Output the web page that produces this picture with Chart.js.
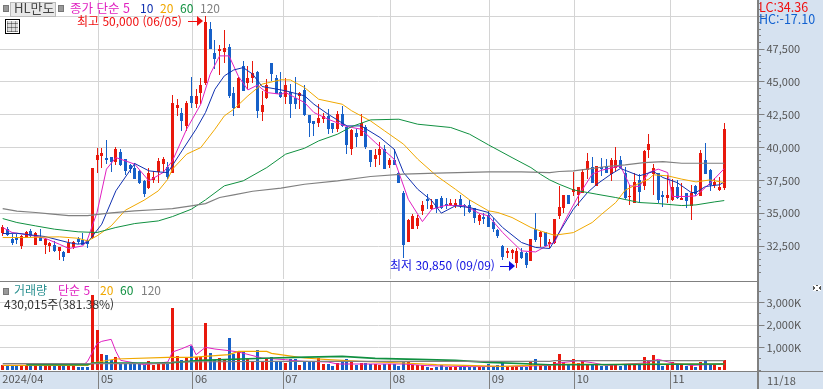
<!DOCTYPE html>
<html lang="ko">
<head>
<meta charset="utf-8">
<title>HL만도</title>
<script src="https://cdn.jsdelivr.net/npm/chart.js@4"></script>
<style>
html, body { margin: 0; padding: 0; background: #fff; overflow: hidden; }
#page { position: relative; width: 823px; height: 389px; overflow: hidden; }
#page canvas { position: absolute; left: 0; }
.side { position: absolute; left: 758px; top: 0; width: 65px; height: 389px; background: #d6e2f0; }
.band { position: absolute; left: 0; top: 371px; width: 758px; height: 18px; background: #d6e2f0; }
.rule { position: absolute; background: #808080; }
.t { position: absolute; white-space: nowrap; font: 12px/14px "Noto Sans CJK KR", sans-serif; z-index: 3; }
.sq { position: absolute; width: 4px; height: 5px; background: #999; border: 1px solid #777; z-index: 3; }
.btn { position: absolute; left: 10px; top: 2px; width: 44px; height: 13px; background: #e8e8e8; border: 1px solid #bbb; z-index: 3; }
.grid-ico { position: absolute; left: 5px; top: 19px; width: 11px; height: 11px; border: 1px solid #000; padding: 1px; z-index: 3; }
.grid-ico div { width: 100%; height: 100%; background:
    repeating-linear-gradient(90deg, #999 0 1px, #ddd 1px 4px),
    repeating-linear-gradient(0deg, #999 0 1px, transparent 1px 4px);
    background-blend-mode: multiply; }
.close { position: absolute; left: 813px; top: 285px; width: 8px; height: 6px; z-index: 3; background:
    linear-gradient(45deg, transparent 42%, #fff 42% 58%, transparent 58%),
    linear-gradient(-45deg, transparent 42%, #fff 42% 58%, transparent 58%), #555; }
.arrow { position: absolute; height: 1px; z-index: 3; }
.head { position: absolute; width: 0; height: 0; border-top: 5px solid transparent; border-bottom: 5px solid transparent; z-index: 3; }
</style>
</head>
<body>
<div id="page">
    <div class="side"></div>
    <div class="band"></div>

    <canvas id="priceChart" width="823" height="279" style="top:0"></canvas>
    <canvas id="volumeChart" width="823" height="108" style="top:281px"></canvas>

    <div class="rule" style="left:0;top:281px;width:758px;height:1px"></div>
    <div class="rule" style="left:0;top:371px;width:823px;height:1px"></div>
    <div class="rule" style="left:757px;top:279px;width:2px;height:110px"></div>

    <div class="sq" style="left:3px;top:5px"></div>
    <div class="btn"></div>
    <div class="t" style="left:14px;top:1px;color:#444;font-size:13px">HL만도</div>
    <div class="sq" style="left:58px;top:5px"></div>
    <div class="t" style="left:70px;top:1px;color:#e020c0;font-size:12.5px">종가 단순 5</div>
    <div class="t" style="left:140px;top:1px;color:#1030b0">10</div>
    <div class="t" style="left:160px;top:1px;color:#f0a800">20</div>
    <div class="t" style="left:180px;top:1px;color:#109040">60</div>
    <div class="t" style="left:200px;top:1px;color:#808080">120</div>
    <div class="grid-ico"><div></div></div>

    <div class="t" style="left:77px;top:14px;color:#f01010">최고 50,000 (06/05)</div>
    <div class="arrow" style="left:188px;top:21px;width:9px;background:#f01010"></div>
    <div class="head" style="left:197px;top:16px;border-left:6px solid #f01010"></div>

    <div class="t" style="left:390px;top:258px;color:#1010e0">최저 30,850 (09/09)</div>
    <div class="arrow" style="left:500px;top:266px;width:9px;background:#1010e0"></div>
    <div class="head" style="left:509px;top:261px;border-left:6px solid #1010e0"></div>

    <div class="t" style="left:759px;top:0;color:#f01010;font-size:12.5px">LC:34.36</div>
    <div class="t" style="left:759px;top:12px;color:#1060d0;font-size:12.5px">HC:-17.10</div>

    <div class="sq" style="left:3px;top:288px"></div>
    <div class="t" style="left:14px;top:283px;color:#2a9090">거래량</div>
    <div class="t" style="left:58px;top:283px;color:#e020c0">단순 5</div>
    <div class="t" style="left:100px;top:283px;color:#f0a800">20</div>
    <div class="t" style="left:120px;top:283px;color:#109040">60</div>
    <div class="t" style="left:141px;top:283px;color:#808080">120</div>
    <div class="t" style="left:4px;top:297px;color:#333">430,015주(381.38%)</div>
    <div class="close"></div>
    <div class="t" style="left:767px;top:373px;color:#555;font-size:11px">11/18</div>
</div>

<script>
// === DATA ===
const monthLabels = ['2024/04', '05', '06', '07', '08', '09', '10', '11'];
const monthPos = [-0.5, 20.4, 40.35, 59.5, 82.3, 103.3, 121.3, 141.6];
const priceLabels = [32500, 35000, 37500, 40000, 42500, 45000, 47500];
const volumeLabels = [1000, 2000, 3000];

const open = [
    33490,33840,33030,33130,32520,33150,33640,32600,33210,32600,
    32520,32570,32110,32060,31990,32470,33030,32950,32900,33130,
    39040,39350,39190,39270,38910,39700,39120,38660,38480,38230,
    37470,36910,37540,38180,38760,38560,38100,43050,42620,41650,
    43890,43300,44140,44900,49010,47180,47360,47290,47670,44190,
    43000,46220,44950,45330,45760,42720,43760,46420,45330,44240,
    43860,44240,43760,43890,44370,42470,42010,41860,42210,42390,
    41910,41400,42540,41600,39880,41100,40890,41530,39800,39120,
    39420,39880,38660,39040,38100,36580,32820,33840,34040,35180,
    36120,35310,36070,36170,35740,35640,35570,36070,35620,35620,
    35440,34400,34750,34850,34300,33740,32520,31960,31960,31200,
    32060,31960,31380,33790,33230,33540,32650,32770,34800,35440,
    36380,36630,36380,36580,38310,38560,37040,38560,38610,37980,
    38480,39070,38100,36230,35820,37520,37090,39830,38000,38100,
    36380,36170,36000,36990,36020,36530,35570,37040,36330,39070,
    38280,37140,36760,36890
];
const close = [
    33990,33330,32770,32980,33280,33540,33280,33480,32900,33080,
    32720,32140,32420,31660,32770,32850,32800,32620,32650,38410,
    39420,39570,39070,38910,39880,38660,38200,38360,37590,37340,
    36450,38050,37800,38960,39120,37800,43380,43230,42030,43430,
    43430,43890,44750,49570,47490,46730,47490,47560,43940,43000,
    45330,44320,45260,45660,42790,43230,44750,45590,44060,43860,
    44770,43300,43350,44140,42470,41910,41830,42240,42390,41400,
    41400,42540,41650,40180,41350,40790,41910,40080,38940,39470,
    39930,38360,39070,38710,37340,32600,34470,34760,34650,35620,
    35920,35640,35440,35440,35570,35770,35820,35520,35520,35130,
    34630,34880,34550,33970,33790,33280,31710,32140,32190,32140,
    31630,31050,33030,32980,33590,32520,32820,34550,35510,36380,
    35740,36830,36990,38150,38990,37340,38610,38360,38100,39040,
    39040,38480,36170,36280,37390,36630,39730,40260,38410,36020,
    36250,36380,36990,36170,36170,35950,36580,36450,39570,38000,
    37160,37390,37010,41450
];
const high = [
    34090,33990,33410,33410,33330,33690,33790,33540,33790,33130,
    32850,32900,32420,32110,33030,32880,33230,33510,33030,38410,
    40000,40000,40560,39270,40080,39880,39170,38740,38810,38300,
    37540,38430,38230,39240,39270,38940,43990,43680,43050,43560,
    45410,44440,45280,50000,49570,48200,47790,48930,47870,44650,
    45410,46600,46220,46600,45840,44320,45200,46420,45510,45760,
    45330,44830,45410,44240,44750,42470,42010,43300,42670,42970,
    41910,42770,43180,41600,41400,41400,42570,41710,39800,39930,
    40390,40180,39240,39880,38230,36710,34550,34930,34860,35950,
    36450,36070,36120,36330,36200,36070,36070,36380,35690,36020,
    35440,34930,35060,35190,34680,33840,32570,32390,32320,32390,
    32390,32060,33030,35010,33660,33610,33030,34550,37040,36380,
    36380,38180,36990,38360,39570,39270,38610,39240,39120,39190,
    40030,39370,38560,37140,38100,37980,39830,41020,38740,38100,
    36710,37900,37600,37520,37290,36530,37140,37190,39780,40340,
    38360,37720,37750,41860
];
const low = [
    33280,33280,32600,32650,32320,33130,33230,32570,32880,31890,
    32060,32060,31450,31350,31960,32270,32650,32570,32370,33030,
    38050,38480,38790,38150,38660,38610,37900,38050,37590,37260,
    36220,36880,37290,37290,38100,37590,38100,42420,41270,41270,
    43050,43050,43300,44750,47490,45970,45510,46470,43810,42420,
    43000,44320,44440,44950,42290,42030,43680,45080,44060,43810,
    43300,42290,42920,42970,42420,40790,40890,41600,41910,41070,
    41100,41150,41530,39500,39450,40080,40890,39930,38510,38510,
    38660,38360,38410,38660,37290,31630,32820,33790,33840,34860,
    35310,35260,35010,35310,35310,35520,35440,35440,34800,35060,
    34250,34100,34170,33920,33540,33150,31450,31630,31510,30850,
    31510,30870,31380,32850,32470,32470,32390,32700,34550,35010,
    35740,36330,35520,36580,37590,37290,37040,37850,38100,37470,
    38180,38430,36070,35620,35770,35770,36780,39190,36380,35770,
    35490,35770,35920,36070,36020,35440,34470,36280,36330,37980,
    36710,36890,36710,36780
];
const volume = [
    207,178,178,178,193,207,163,207,163,193,
    193,178,193,178,163,163,148,148,148,3350,
    1790,710,670,460,560,270,270,270,270,270,
    237,385,237,300,355,300,2755,640,440,590,
    1080,600,560,2090,755,440,530,475,1420,710,
    800,800,490,415,890,415,530,560,355,355,
    311,490,490,222,385,385,385,530,267,267,
    178,296,355,490,385,222,326,296,267,267,
    237,267,267,267,178,400,355,237,237,222,
    133,89,148,222,148,148,133,148,133,133,
    133,148,133,267,163,222,326,148,148,178,
    148,148,385,490,207,178,163,355,711,355,
    207,490,311,385,281,207,207,178,178,222,
    207,178,207,207,207,207,578,385,667,385,
    178,267,355,207,207,178,207,133,355,444,
    237,237,133,430
];

// moving average lines at these bars
const ma5Bars = [0,2,6,9,12,14,17,18,20,22,24,28,31,34,36,39,42,44,46,48,50,52,54,56,59,60,64,66,69,73,76,79,83,84,86,89,91,94,98,101,103,106,110,113,116,117,119,122,125,127,131,133,135,137,139,141,142,145,147,149,151,153];
const ma5 = [33920,33540,33330,33100,32650,32320,32520,33030,35060,38360,39240,38740,37470,38100,38990,41400,43300,45590,46980,46980,45410,44390,44750,44190,44060,44190,43430,42670,42160,41600,41400,40390,39120,38100,36070,34370,35310,35610,35570,35010,34800,33540,32140,32060,32650,32770,34300,36280,37980,38280,38610,37090,37040,38100,38360,38100,36280,36280,36330,36960,37650,38400];
const ma10Bars = [0,3,9,14,16,18,21,24,28,31,33,35,38,41,43,45,47,49,51,53,55,59,60,64,66,69,73,76,80,83,85,88,91,93,96,99,103,106,110,113,116,118,121,124,126,129,131,135,138,140,143,146,147,149,152,153];
const ma10 = [33460,33480,33230,32770,32650,32770,34170,36710,38790,38230,38150,38100,39750,41400,42670,44440,45460,45910,46090,45590,44650,44390,44320,43940,43300,42540,41650,41650,40770,39880,38100,36830,35950,35010,35570,35440,35060,33920,32780,32400,32320,33540,35310,36580,37220,37980,38410,37850,38180,37720,37340,36580,36580,37040,37170,37390];
const ma20Bars = [0,4,12,16,18,20,23,26,30,33,35,36,39,42,45,47,49,52,55,59,61,64,67,72,74,78,81,85,88,92,96,99,103,105,108,112,114,117,121,125,127,130,132,135,137,138,141,144,147,150,153];
const ma20 = [33155,33155,33210,33100,32900,33280,34040,35230,36000,36710,37590,38360,39500,40000,41400,42415,42920,43940,44830,45160,45150,44570,43680,43300,42800,42030,41270,40260,39120,37850,36830,36020,35190,35060,34680,33920,33660,33330,33530,34300,34930,35820,36760,37290,37600,37930,37850,37600,37390,37540,37340];
const ma60Bars = [0,3,7,11,16,20,24,28,33,36,40,43,47,51,56,60,64,67,71,74,78,84,88,95,99,103,108,112,114,116,118,121,126,130,135,139,144,147,151,153];
const ma60 = [34600,34300,34040,33790,33590,33540,33920,34220,34420,34750,35310,36020,37090,37470,38480,39500,39950,40510,41020,41600,42110,42160,41780,41530,41020,40210,39240,38480,37980,37540,37210,36780,36450,36200,35820,35740,35590,35640,35870,35970];
const ma120Bars = [0,3,7,10,14,18,23,28,33,36,40,43,46,49,53,59,64,71,78,85,92,103,110,116,118,121,124,128,132,136,140,144,153];
const ma120 = [35360,35160,35060,34960,34830,34830,35030,35180,35290,35360,35570,35740,36200,36400,36680,36910,37210,37470,37800,37980,38050,38150,38150,38100,38180,38230,38360,38560,38690,38860,38940,38810,38810];

const volMa5Bars = [0,17,18,20,21,23,24,25,30,35,36,38,40,41,43,45,48,50,55,60,62,64,69,71,78,85,90,99,110,116,118,122,125,128,136,139,142,146,153];
const volMa5 = [207,207,385,1170,1274,1363,830,430,237,355,800,948,1126,680,1007,933,860,800,533,459,415,385,355,267,267,267,193,148,163,207,311,415,326,207,311,474,311,207,267];
const volMa20Bars = [0,18,19,24,35,40,48,50,56,57,60,64,69,76,85,92,106,116,121,128,135,153];
const volMa20 = [207,207,311,489,563,563,681,830,830,741,652,533,459,385,311,237,163,237,267,237,267,267];
const volMa60Bars = [5,18,19,35,42,57,62,72,79,88,96,103,111,116,121,153];
const volMa60 = [237,237,311,311,430,533,563,607,518,474,430,341,281,237,237,267];
const volMa120Bars = [0,35,36,57,116,117,153];
const volMa120 = [281,281,355,385,385,415,415];

// === STYLE ===
const RED = '#e8180c', BLUE = '#1660c8';
const GRID = '#d4d4d4', AXIS = '#808080', LABEL = '#555';
const FONT = { family: '"Noto Sans CJK KR", sans-serif', size: 11 };
const barIndex = open.map((_, i) => i);
const barColors = open.map((o, i) => close[i] >= o ? RED : BLUE);

function line(bars, values, color, width) {
    return {
        type: 'line',
        data: bars.map((x, i) => ({ x, y: values[i] })),
        borderColor: color,
        borderWidth: width || 1,
        pointRadius: 0,
        tension: 0,
        order: 0
    };
}

function floatBars(top, bottom, thickness) {
    return {
        type: 'bar',
        data: barIndex.map(i => ({ x: i, y: [top[i], bottom[i]] })),
        backgroundColor: barColors,
        barThickness: thickness,
        grouped: false,
        inflateAmount: 0,
        order: 1
    };
}

function stepTicks(from, to, step) {
    const ticks = [];
    for (let v = from; v <= to; v += step) ticks.push({ value: v });
    return ticks;
}

// keeps bars on whole pixels like the original chart
const snapBars = {
    id: 'snapBars',
    afterDatasetsUpdate(chart) {
        chart.data.datasets.forEach((ds, idx) => {
            if (ds.type !== 'bar') return;
            chart.getDatasetMeta(idx).data.forEach(el => {
                el.x = Math.floor(el.x) + 0.5;
                el.y = Math.round(el.y);
                el.base = Math.round(el.base);
                if (el.y === el.base) el.base = el.y + 1;
            });
        });
    }
};

function xAxis(showLabels) {
    return {
        type: 'linear',
        offset: false,
        min: -0.57,
        max: 160.05,
        afterBuildTicks: axis => { axis.ticks = monthPos.map(value => ({ value })); },
        afterFit: axis => {
            axis.height = showLabels ? 18 : 0;
            axis.paddingLeft = axis.paddingRight = 0;
        },
        border: { display: false },
        grid: {
            offset: false,
            color: ctx => ctx.index === 0 ? 'transparent' : GRID,
            drawTicks: showLabels,
            tickLength: 18,
            tickColor: ctx => ctx.index === 0 ? 'transparent' : AXIS
        },
        ticks: {
            display: showLabels,
            autoSkip: false,
            maxRotation: 0,
            align: 'start',
            labelOffset: 2,
            padding: -17,
            color: LABEL,
            font: FONT,
            callback: value => monthLabels[monthPos.indexOf(value)]
        }
    };
}

function yAxis(min, max, from, to, step, isMajor, label) {
    return {
        position: 'right',
        min,
        max,
        afterBuildTicks: axis => { axis.ticks = stepTicks(from, to, step); },
        afterFit: axis => {
            axis.width = 65.5;
            axis.paddingTop = axis.paddingBottom = 0;
        },
        border: { color: AXIS, width: 2 },
        grid: {
            color: ctx => ctx.tick && isMajor(ctx.tick.value) ? GRID : 'transparent',
            tickLength: 7,
            tickColor: AXIS,
            tickBorderDash: ctx => ctx.tick && isMajor(ctx.tick.value) ? [] : [2, 100]
        },
        ticks: { autoSkip: false, padding: 2, color: LABEL, font: FONT, callback: label }
    };
}

function makeChart(id, datasets, yScale, showLabels) {
    return new Chart(document.getElementById(id), {
        data: { datasets },
        plugins: [snapBars],
        options: {
            responsive: false,
            animation: false,
            layout: { padding: 0 },
            plugins: { legend: { display: false }, tooltip: { enabled: false } },
            scales: { x: xAxis(showLabels), y: yScale }
        }
    });
}

// === PRICE ===
makeChart('priceChart', [
    line(ma120Bars, ma120, '#808080', 1.2),
    line(ma60Bars, ma60, '#109040'),
    line(ma20Bars, ma20, '#f0a800'),
    line(ma10Bars, ma10, '#1030b0'),
    line(ma5Bars, ma5, '#e020c0'),
    floatBars(open, close, 3),
    floatBars(high, low, 1)
], yAxis(30000, 51233, 30000, 51000, 500,
    v => v % 2500 === 0,
    v => priceLabels.includes(v) ? v.toLocaleString('en-US') : ''), false);

// === VOLUME ===
makeChart('volumeChart', [
    line(volMa120Bars, volMa120, '#808080', 1.2),
    line(volMa60Bars, volMa60, '#109040', 1.6),
    line(volMa20Bars, volMa20, '#f0a800', 1.2),
    line(volMa5Bars, volMa5, '#e020c0'),
    {
        type: 'bar',
        data: barIndex.map(i => ({ x: i, y: volume[i] })),
        backgroundColor: barColors,
        barThickness: 3,
        grouped: false,
        inflateAmount: 0,
        order: 1
    }
], yAxis(-44, 3956, 0, 3500, 500,
    v => v > 0 && v % 1000 === 0,
    v => volumeLabels.includes(v) ? v.toLocaleString('en-US') + 'K' : ''), true);
</script>
</body>
</html>
